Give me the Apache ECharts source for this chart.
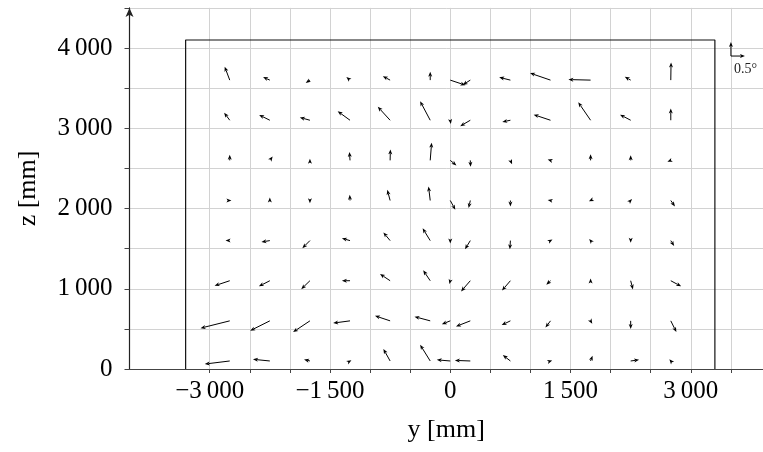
<!DOCTYPE html>
<html><head><meta charset="utf-8">
<script src="https://cdn.jsdelivr.net/npm/echarts@6/dist/echarts.min.js"></script>
<style>html,body{margin:0;padding:0;background:#fff}#c{width:763px;height:452px}</style>
</head><body><div id="c"></div>
<script>
// measurement grid positions (mm)
const yPositions = [-2750, -2250, -1750, -1250, -750, -250, 0, 250, 750, 1250, 1750, 2250, 2750];
const zPositions = [3600, 3100, 2600, 2100, 1600, 1100, 600, 100];
// rotation components (degrees), one row per z position, one column per y position
const rotY = [
  [-0.18, -0.24, -0.15, -0.13, -0.26,  0.00,  0.54, -0.27, -0.40, -0.73, -0.79, -0.21,  0.01],
  [-0.20, -0.38, -0.36, -0.44, -0.44, -0.36,  0.02, -0.36, -0.29, -0.60, -0.44, -0.38,  0.00],
  [ 0.00,  0.10,  0.00, -0.02,  0.01,  0.05,  0.22,  0.01,  0.06, -0.10,  0.00,  0.00, -0.12],
  [ 0.06,  0.00,  0.00, -0.01, -0.10, -0.06,  0.18, -0.06,  0.00, -0.10, -0.06,  0.05,  0.15],
  [-0.15, -0.30, -0.27, -0.29, -0.24, -0.27,  0.00, -0.19, -0.02,  0.07, -0.05,  0.00,  0.12],
  [-0.54, -0.39, -0.31, -0.29, -0.36, -0.25, -0.03, -0.33, -0.30, -0.15,  0.00,  0.08,  0.37],
  [-1.04, -0.70, -0.60, -0.60, -0.54, -0.56, -0.30, -0.51, -0.31, -0.18,  0.06,  0.00,  0.20],
  [-0.89, -0.60, -0.21,  0.05, -0.24, -0.36, -0.48, -0.55, -0.27,  0.06,  0.07,  0.30, -0.05]
];
const rotZ = [
  [ 0.48,  0.11, -0.10,  0.11,  0.14,  0.30, -0.18, -0.17,  0.10,  0.25,  0.02,  0.12,  0.63],
  [ 0.27,  0.19,  0.10,  0.32,  0.48,  0.68, -0.13, -0.21, -0.06,  0.20,  0.64,  0.20,  0.42],
  [ 0.20,  0.14,  0.06,  0.30,  0.39,  0.63, -0.18, -0.23, -0.14,  0.03,  0.22,  0.18, -0.05],
  [ 0.00,  0.11, -0.10,  0.20,  0.38,  0.50, -0.33, -0.27, -0.21,  0.02, -0.03,  0.05, -0.21],
  [ 0.00, -0.05, -0.27,  0.08,  0.29,  0.44, -0.10, -0.31, -0.31,  0.04,  0.06, -0.08, -0.19],
  [-0.18, -0.20, -0.30,  0.00,  0.24,  0.37, -0.12, -0.38, -0.35, -0.14,  0.08, -0.31, -0.20],
  [-0.26, -0.35, -0.40, -0.08,  0.18,  0.15, -0.12, -0.20, -0.15, -0.24, -0.10, -0.29, -0.40],
  [-0.11,  0.06,  0.05,  0.03,  0.43,  0.58,  0.04,  0.02,  0.21,  0.02,  0.19,  0.04,  0.06]
];
const xTickValues = [-3000, -2500, -2000, -1500, -1000, -500, 0, 500, 1000, 1500, 2000, 2500, 3000, 3500];
const xLabelValues = [-3000, -1500, 0, 1500, 3000];
const zLabelValues = [0, 1000, 2000, 3000, 4000];
const frameCorners = [[-3300, 0], [-3300, 4100], [3300, 4100], [3300, 0]];
const refArrowPos = [3500, 3900];
const refArrowDeg = 0.5;
const refArrowText = '0.5°';
const MM_PER_DEG = 350;

const FONT = "'Liberation Serif', 'DejaVu Serif', serif";
const GRID_COLOR = '#d2d2d2';

function fmt(v) {
  const a = Math.abs(v);
  let s = a >= 1000 ? Math.floor(a / 1000) + '\u2009' + String(a % 1000).padStart(3, '0') : String(a);
  return (v < 0 ? '\u2212' : '') + s;
}

const arrowData = [];
zPositions.forEach((z, i) => {
  yPositions.forEach((y, j) => {
    arrowData.push([y, z, rotY[i][j], rotZ[i][j]]);
  });
});

function arrowParts(p0, p1) {
  const dx = p1[0] - p0[0], dy = p1[1] - p0[1];
  const L = Math.hypot(dx, dy);
  if (L < 0.3) return [];
  const ux = dx / L, uy = dy / L;
  const hl = 5, hw = 2;
  const bx = p1[0] - ux * hl, by = p1[1] - uy * hl;
  const out = [];
  if (L > hl) out.push({ type: 'line', shape: { x1: p0[0], y1: p0[1], x2: bx + ux, y2: by + uy }, style: { stroke: '#000', lineWidth: 1 } });
  out.push({ type: 'polygon', shape: { points: [[p1[0], p1[1]], [bx - uy * hw, by + ux * hw], [p1[0] - ux * hl * 0.75, p1[1] - uy * hl * 0.75], [bx + uy * hw, by - ux * hw]] }, style: { fill: '#000' } });
  return out;
}

const chart = echarts.init(document.getElementById('c'), null, { renderer: 'canvas' });
chart.setOption({
  animation: false,
  backgroundColor: '#fff',
  grid: { left: 129.5, right: 0, top: 7.9, bottom: 83, containLabel: false },
  xAxis: {
    type: 'value', min: -4000, max: 3900, interval: 500,
    name: 'y [mm]', nameLocation: 'middle', nameGap: 48,
    nameTextStyle: { fontFamily: FONT, fontSize: 26, color: '#000' },
    axisLine: { onZero: false, lineStyle: { color: '#444', width: 1.2 } },
    axisTick: { show: true, length: 4, customValues: xTickValues, lineStyle: { color: '#444' } },
    axisLabel: { customValues: xLabelValues, formatter: fmt, margin: 10, fontFamily: FONT, fontSize: 25, color: '#000' },
    splitLine: { show: false }
  },
  yAxis: {
    type: 'value', min: 0, max: 4500, interval: 500,
    name: 'z [mm]', nameLocation: 'middle', nameGap: 88, nameRotate: 90,
    nameTextStyle: { fontFamily: FONT, fontSize: 26, color: '#000' },
    axisLine: { show: true, onZero: false, symbol: ['none', 'arrow'], symbolSize: [6, 9], lineStyle: { color: '#222', width: 1.2 } },
    axisTick: { show: true, length: 5, lineStyle: { color: '#444' } },
    axisLabel: { customValues: zLabelValues, formatter: fmt, margin: 17, fontFamily: FONT, fontSize: 25, color: '#000' },
    splitLine: { show: true, lineStyle: { color: GRID_COLOR, width: 1 } }
  },
  series: [
    {
      type: 'line', data: frameCorners, showSymbol: false, symbol: 'none', silent: true,
      lineStyle: { color: '#111', width: 1.2 }, z: 3,
      markLine: {
        silent: true, symbol: ['none', 'none'], label: { show: false }, animation: false,
        lineStyle: { color: GRID_COLOR, width: 1, type: 'solid' },
        data: xTickValues.map(v => ({ xAxis: v })),
        z: 1
      }
    },
    {
      type: 'custom', data: arrowData, clip: false, z: 5,
      renderItem: function (params, api) {
        const y = api.value(0), z = api.value(1), u = api.value(2), v = api.value(3);
        const p0 = api.coord([y, z]);
        const p1 = api.coord([y + u * MM_PER_DEG, z + v * MM_PER_DEG]);
        return { type: 'group', children: arrowParts(p0, p1) };
      }
    },
    {
      type: 'custom', data: [refArrowPos], clip: false, z: 5,
      renderItem: function (params, api) {
        const y = api.value(0), z = api.value(1);
        const p0 = api.coord([y, z]);
        const pr = api.coord([y + refArrowDeg * MM_PER_DEG, z]);
        const pu = api.coord([y, z + refArrowDeg * MM_PER_DEG]);
        const ch = arrowParts(p0, pr).concat(arrowParts(p0, pu));
        ch.push({ type: 'text', x: p0[0] + 3, y: p0[1] + 6, style: { text: refArrowText, fontFamily: FONT, fontSize: 14, fill: '#222', align: 'left', verticalAlign: 'top' } });
        return { type: 'group', children: ch };
      }
    }
  ]
});
</script>
</body></html>
